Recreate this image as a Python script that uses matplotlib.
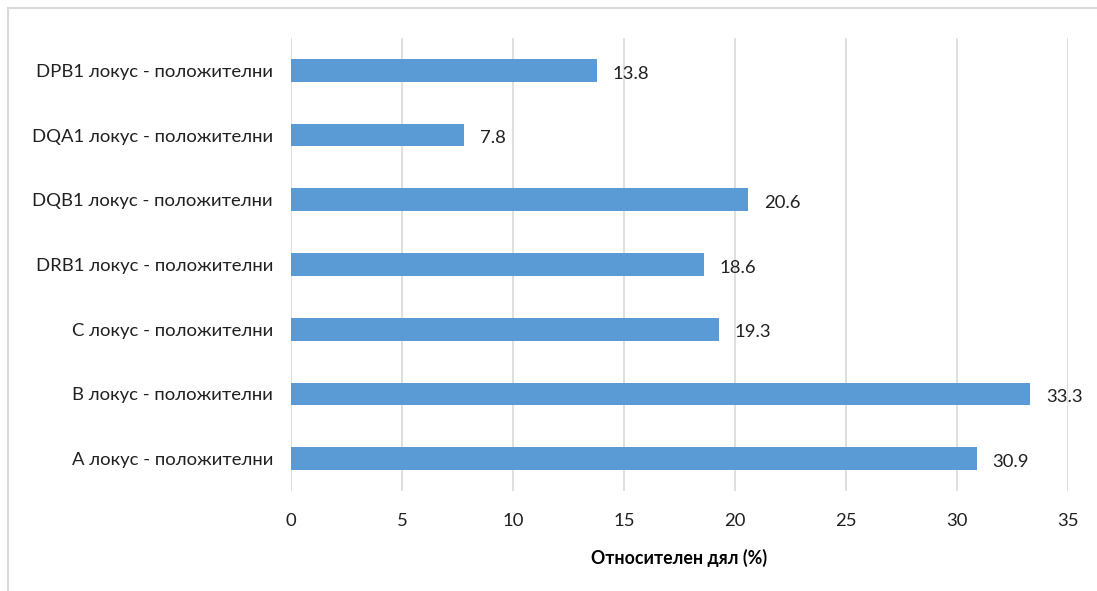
import matplotlib.pyplot as plt
from matplotlib.patches import Rectangle

# categories listed bottom to top
categories = ['A локус - положителни', 'B локус - положителни', 'C локус - положителни',
              'DRB1 локус - положителни', 'DQB1 локус - положителни',
              'DQA1 локус - положителни', 'DPB1 локус - положителни']
values = [30.9, 33.3, 19.3, 18.6, 20.6, 7.8, 13.8]
xticks = [0, 5, 10, 15, 20, 25, 30, 35]

plt.rcParams['font.family'] = ['Lato', 'DejaVu Sans']
fs = 13.3

fig = plt.figure(figsize=(10.97, 5.91), dpi=100)
ax = fig.add_axes([291 / 1097, 1 - 491 / 591, (1068 - 291) / 1097, (491 - 38) / 591])

ypos = range(len(categories))
ax.barh(ypos, values, height=0.35, color='#5B9BD5', zorder=3)
for y, v in zip(ypos, values):
    ax.text(v + 0.7, y - 0.05, f'{v}', va='center', ha='left', fontsize=fs, color='#202020')

ax.set_xlim(0, 35)
ax.set_ylim(-0.5, len(categories) - 0.5)
ax.set_xticks(xticks)
ax.set_yticks(list(ypos))
ax.set_yticklabels(categories)
ax.grid(axis='x', color='#D9D9D9', linewidth=1.2, zorder=0)
for s in ax.spines.values():
    s.set_visible(False)
ax.tick_params(axis='both', length=0, labelsize=fs, colors='#202020')
ax.tick_params(axis='y', pad=13)
ax.tick_params(axis='x', pad=16)
ax.set_xlabel('Относителен дял (%)', fontsize=fs - 0.5, fontweight='bold', labelpad=14)

# chart frame, cut off at right and bottom
fig.patches.append(Rectangle((8 / 1097, -0.1), 1.2, 1.1 - 8 / 591, transform=fig.transFigure,
                             fill=False, edgecolor='#D9D9D9', linewidth=1.5))

fig.savefig('out.png', dpi=100)
